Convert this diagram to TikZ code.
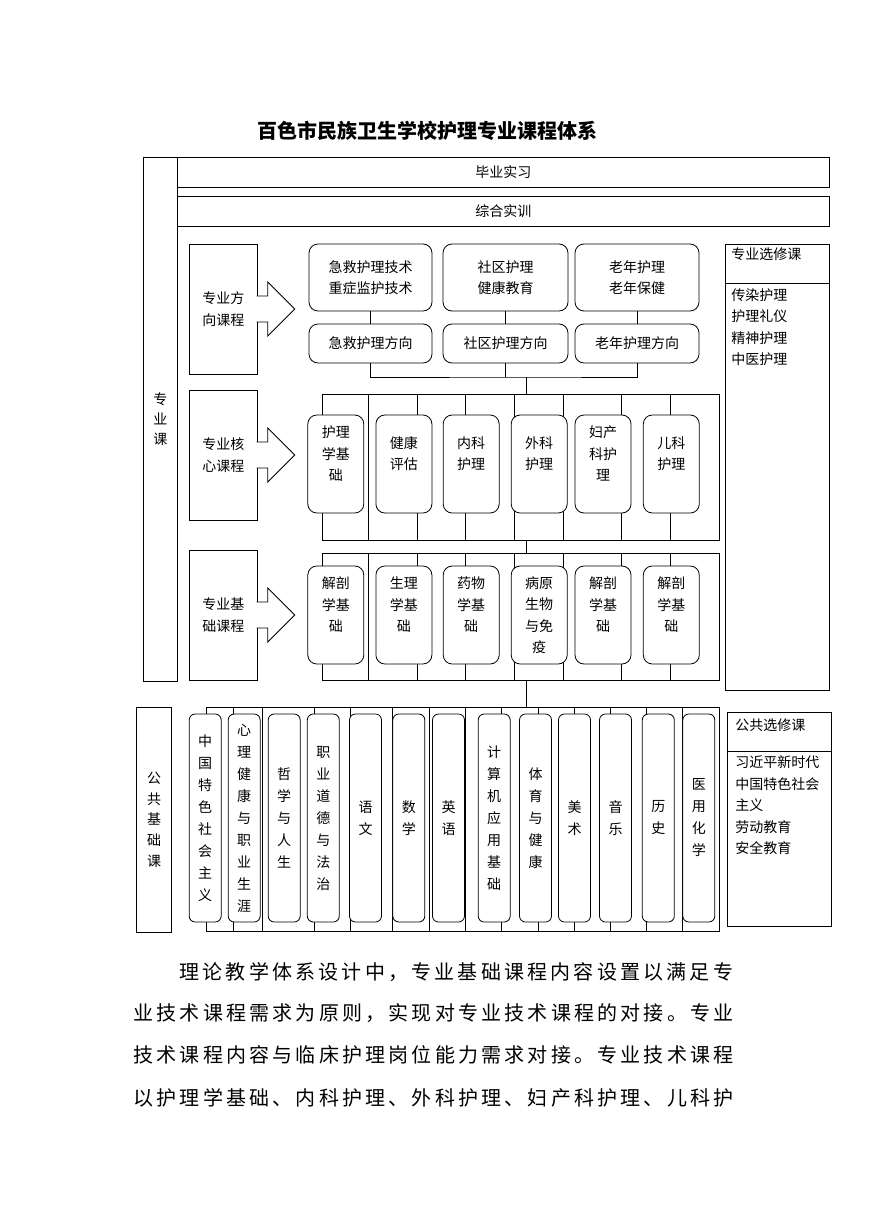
\documentclass[tikz,border=0pt]{standalone}
\usepackage{fontspec}
\setmainfont{Noto Sans CJK SC}
\newfontfamily\parafont[LetterSpace=16]{Noto Sans CJK SC}
\usepackage{tikz}
\usetikzlibrary{positioning}

\tikzset{
  rowframe/.style={draw, inner sep=0pt},
  plainbox/.style={draw, fill=white, inner sep=0pt, align=center,
                   font=\fontsize{14}{21.5}\selectfont},
  roundbox/.style={plainbox, rounded corners=9pt},
  coursebox/.style={plainbox, rounded corners=6pt, minimum width=32,
                    minimum height=208, font=\fontsize{14}{22}\selectfont},
  lbl/.style={inner sep=0pt, align=left, font=\fontsize{14}{21.5}\selectfont},
  paraline/.style={anchor=west, inner sep=0pt, font=\parafont\fontsize{20}{24}\selectfont},
  fatarrow/.pic={
    \draw[fill=white] (-1,-13) -- (10,-13) -- (10,-27) -- (37,0)
                      -- (10,27) -- (10,13) -- (-1,13);}
}

\begin{document}
\begin{tikzpicture}[x=1pt, y=-1pt, line width=0.8pt]
  \useasboundingbox (0,0) rectangle (869,1228);

  \node[font=\fontsize{20}{24}\selectfont\bfseries] (title) at (427.5,131)
    {百色市民族卫生学校护理专业课程体系};

  % professional courses
  \node[plainbox, minimum width=34.7, minimum height=524,
        font=\fontsize{14}{20}\selectfont] (major) at (160.3,419) {专\\业\\课};
  \node[plainbox, minimum width=651.3, minimum height=30] (intern) at (503.3,172.5) {毕业实习};
  \node[plainbox, minimum width=651.3, minimum height=30] (train) at (503.3,211.5) {综合实训};

  % direction courses
  \node[plainbox, minimum width=68, minimum height=130] (dirLabel) at (223.3,309) {专业方\\向课程};
  \pic at (dirLabel.east) {fatarrow};
  \foreach \cx/\w/\skill/\track [count=\i] in {
      370.5/123/{急救护理技术\\重症监护技术}/急救护理方向,
      505.5/125/{社区护理\\健康教育}/社区护理方向,
      637/124/{老年护理\\老年保健}/老年护理方向}{
    \node[roundbox, minimum width=\w, minimum height=67] (top\i) at (\cx,277.5) {\skill};
    \node[roundbox, minimum width=\w, minimum height=39] (dir\i) at (\cx,343.5) {\track};
    \draw (top\i) -- (dir\i);
  }

  % core courses
  \node[rowframe, minimum width=397, minimum height=146] (coreFrame) at (520.8,467) {};
  \foreach \cx in {368.3,417.3,465.7,514.3,563.3,621.7,670.7}
    \draw (coreFrame.north -| \cx,0) -- (coreFrame.south -| \cx,0);
  \coordinate (hub) at (526.7,377);
  \draw (dir1.south) |- (hub) -| (dir3.south);
  \draw (dir2.south) -- (dir2.south |- hub);
  \draw (hub) -- (hub |- coreFrame.north);

  \node[plainbox, minimum width=68, minimum height=130] (coreLabel) at (223.3,455) {专业核\\心课程};
  \pic at (coreLabel.east) {fatarrow};
  \foreach \cx/\txt [count=\i] in {
      335.8/{护理\\学基\\础\\~}, 403.9/{健康\\评估\\~}, 471.2/{内科\\护理\\~},
      539.2/{外科\\护理\\~}, 603/{妇产\\科护\\理\\~}, 671.3/{儿科\\护理\\~}}
    \node[roundbox, minimum width=56, minimum height=98] (core\i) at (\cx,464) {\txt};

  % basic courses
  \node[rowframe, minimum width=397, minimum height=127] (baseFrame) at (520.8,616.5) {};
  \foreach \cx in {368.3,417.3,465.7,514.3,563.3,621.7,670.7}
    \draw (baseFrame.north -| \cx,0) -- (baseFrame.south -| \cx,0);
  \draw (hub |- coreFrame.south) -- (hub |- baseFrame.north);

  \node[plainbox, minimum width=68, minimum height=130] (baseLabel) at (223.3,615) {专业基\\础课程};
  \pic at (baseLabel.east) {fatarrow};
  \foreach \cx/\txt [count=\i] in {
      335.8/{解剖\\学基\\础\\~}, 403.9/{生理\\学基\\础\\~}, 471.2/{药物\\学基\\础\\~},
      539.2/{病原\\生物\\与免\\疫}, 603/{解剖\\学基\\础\\~}, 671.3/{解剖\\学基\\础\\~}}
    \node[roundbox, minimum width=56, minimum height=98] (base\i) at (\cx,615) {\txt};

  % professional electives
  \node[plainbox, minimum width=104, minimum height=446] (majElec) at (777,467) {};
  \draw (majElec.west |- 0,283) -- (majElec.east |- 0,283);
  \node[lbl, anchor=west] (majElecHead) at (731,254) {专业选修课};
  \node[lbl, anchor=west] (majElecList) at (731,327) {传染护理\\护理礼仪\\精神护理\\中医护理};

  % public basic courses
  \node[plainbox, minimum width=35, minimum height=225,
        font=\fontsize{14}{20.8}\selectfont] (pubLabel) at (154.2,819.8) {公\\共\\基\\础\\课};
  \node[rowframe, minimum width=513, minimum height=224] (pubFrame) at (462.7,819.2) {};
  \foreach \cx in {233.7,262.7,314.3,350,392.3,429.3,465,501.7,538.3,574.3,610.7,646.7,682.3}
    \draw (pubFrame.north -| \cx,0) -- (pubFrame.south -| \cx,0);
  \draw (hub |- baseFrame.south) -- (hub |- pubFrame.north);
  \foreach \cx/\txt [count=\i] in {
      205.2/{中\\国\\特\\色\\社\\会\\主\\义}, 244.2/{心\\理\\健\\康\\与\\职\\业\\生\\涯},
      284.2/{哲\\学\\与\\人\\生}, 323.3/{职\\业\\道\\德\\与\\法\\治},
      365.5/{语\\文}, 408.8/{数\\学}, 448.5/{英\\语},
      494.2/{计\\算\\机\\应\\用\\基\\础}, 535.5/{体\\育\\与\\健\\康},
      574.5/{美\\术}, 615.5/{音\\乐}, 658.3/{历\\史}, 698.8/{医\\用\\化\\学}}
    \node[coursebox] (pub\i) at (\cx,818) {\txt};

  % public electives
  \node[plainbox, minimum width=103.7, minimum height=214.4] (pubElec) at (779.2,819.5) {};
  \draw (pubElec.west |- 0,751) -- (pubElec.east |- 0,751);
  \node[lbl, anchor=west] (pubElecHead) at (735,725) {公共选修课};
  \node[lbl, anchor=west] (pubElecList) at (735,805.5)
    {习近平新时代\\中国特色社会\\主义\\劳动教育\\安全教育};

  % paragraph below
  \node[paraline] (para1) at (179,972) {理论教学体系设计中，专业基础课程内容设置以满足专};
  \node[paraline] (para2) at (133,1013) {业技术课程需求为原则，实现对专业技术课程的对接。专业};
  \node[paraline] (para3) at (133,1055) {技术课程内容与临床护理岗位能力需求对接。专业技术课程};
  \node[paraline] (para4) at (133,1098) {以护理学基础、内科护理、外科护理、妇产科护理、儿科护};
\end{tikzpicture}
\end{document}
